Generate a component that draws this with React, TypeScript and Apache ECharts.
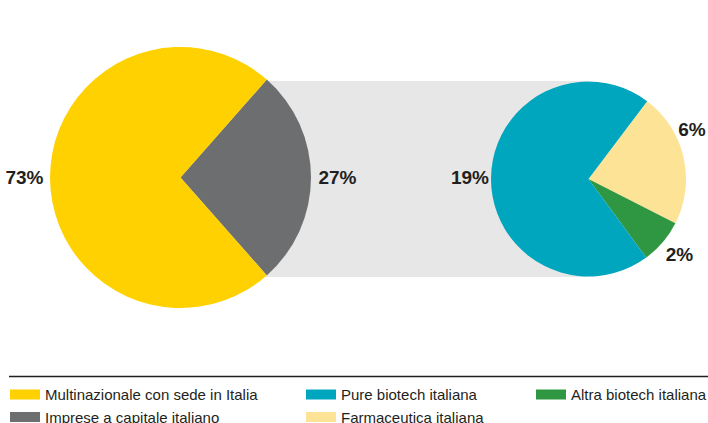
import React, { useEffect, useRef } from "react";
import * as echarts from "echarts";

const mainCategories = ["Imprese a capitale italiano", "Multinazionale con sede in Italia"];
const mainValues = [27, 73];
const subCategories = ["Farmaceutica italiana", "Altra biotech italiana", "Pure biotech italiana"];
const subValues = [6, 2, 19];

const mainColors = ["#6D6E70", "#FFD100"];
const subColors = ["#FDE396", "#2F9641", "#00A5BE"];

const legendCol1 = ["Multinazionale con sede in Italia", "Imprese a capitale italiano"];
const legendCol2 = ["Pure biotech italiana", "Farmaceutica italiana"];
const legendCol3 = ["Altra biotech italiana"];

const TEXT = "#231F20";
const LABEL_FONT = "'Liberation Sans Narrow', 'Liberation Sans', Arial, sans-serif";

export default function App() {
  const ref = useRef<HTMLDivElement>(null);
  useEffect(() => {
    document.body.style.margin = "0";
    if (!ref.current) return;
    const chart = echarts.init(ref.current, undefined, { renderer: "svg" });

    const mainTotal = mainValues.reduce((a, b) => a + b, 0);
    const mainStart = (mainValues[0] / mainTotal) * 180; // grey slice centred on the right

    // label positions (text from data)
    const labelPos: Record<string, [number, number]> = {
      "Multinazionale con sede in Italia": [24.5, 177],
      "Imprese a capitale italiano": [337.5, 177],
      "Pure biotech italiana": [470, 177],
      "Farmaceutica italiana": [692, 129],
      "Altra biotech italiana": [679.5, 254],
    };
    const labelTexts: any[] = [];
    mainCategories.forEach((c, i) => {
      labelTexts.push({ name: c, value: mainValues[i] });
    });
    subCategories.forEach((c, i) => {
      labelTexts.push({ name: c, value: subValues[i] });
    });

    const legendCommon = {
      orient: "vertical",
      icon: "rect",
      itemWidth: 30,
      itemHeight: 10,
      itemGap: 6.5,
      top: 386.5,
      height: 60,
      padding: 0,
      selectedMode: false,
      textStyle: {
        color: TEXT,
        fontSize: 15,
        fontFamily: LABEL_FONT,
        lineHeight: 16,
      },
    };

    chart.setOption({
      animation: false,
      legend: [
        { ...legendCommon, left: 10, data: legendCol1 },
        { ...legendCommon, left: 306, data: legendCol2 },
        { ...legendCommon, left: 536, data: legendCol3 },
      ],
      graphic: [
        {
          type: "rect",
          z: -10,
          shape: { x: 180, y: 81, width: 408, height: 196 },
          style: { fill: "#E6E7E6" },
          silent: true,
        },
        {
          type: "line",
          shape: { x1: 9, y1: 376.5, x2: 708, y2: 376.5 },
          style: { stroke: TEXT, lineWidth: 1.3 },
          silent: true,
        },
        ...labelTexts.map((l) => ({
          type: "text",
          x: labelPos[l.name][0],
          y: labelPos[l.name][1],
          style: {
            text: `${l.value}%`,
            fill: TEXT,
            fontSize: 19,
            fontWeight: "bold",
            fontFamily: LABEL_FONT,
            align: "center",
            verticalAlign: "middle",
          },
          silent: true,
        })),
      ],
      series: [
        {
          type: "pie",
          center: [180.5, 177.5],
          radius: [0, 130.5],
          startAngle: mainStart,
          clockwise: true,
          silent: true,
          label: { show: false },
          labelLine: { show: false },
          itemStyle: { borderWidth: 0 },
          data: mainCategories.map((c, i) => ({
            name: c,
            value: mainValues[i],
            itemStyle: { color: mainColors[i] },
          })),
        },
        {
          type: "pie",
          center: [588.5, 179],
          radius: [0, 97.5],
          startAngle: 53,
          clockwise: true,
          silent: true,
          label: { show: false },
          labelLine: { show: false },
          itemStyle: { borderWidth: 0 },
          data: subCategories.map((c, i) => ({
            name: c,
            value: subValues[i],
            itemStyle: { color: subColors[i] },
          })),
        },
      ],
    });
    return () => chart.dispose();
  }, []);
  return <div ref={ref} style={{ width: 708, height: 423 }} />;
}
